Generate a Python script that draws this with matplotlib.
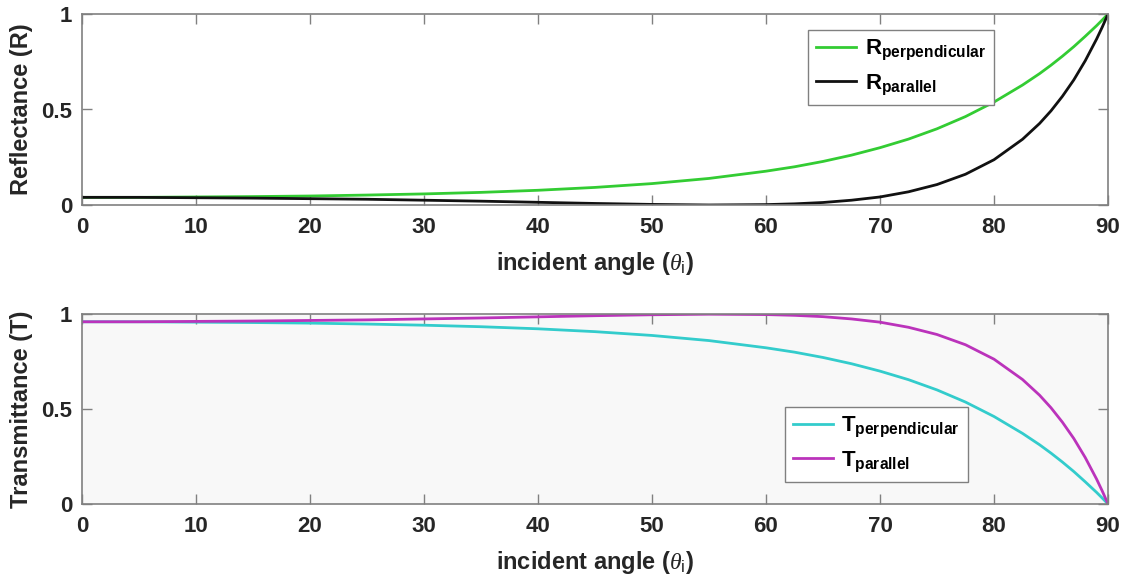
import matplotlib
matplotlib.use('Agg')
import matplotlib.pyplot as plt

plt.rcParams['font.family'] = ['Liberation Sans', 'DejaVu Sans']
plt.rcParams['font.weight'] = 'bold'
plt.rcParams['mathtext.fontset'] = 'custom'
plt.rcParams['mathtext.rm'] = 'Liberation Sans:weight=normal'
plt.rcParams['mathtext.bf'] = 'Liberation Sans:weight=bold'
plt.rcParams['mathtext.it'] = 'Liberation Serif:style=italic:weight=normal'

# incident angle in degrees (glass, n = 1.5)
angle = [0, 5, 10, 15, 20, 25, 30, 35, 40, 45, 50, 55, 60, 62.5, 65, 67.5, 70,
         72.5, 75, 77.5, 80, 82.5, 84, 85, 86, 87, 88, 89, 89.5, 90]

R_perp = [0.040, 0.040, 0.042, 0.044, 0.047, 0.052, 0.058, 0.066, 0.077, 0.092,
          0.112, 0.139, 0.177, 0.200, 0.228, 0.261, 0.300, 0.345, 0.399, 0.463,
          0.539, 0.628, 0.688, 0.732, 0.779, 0.829, 0.883, 0.939, 0.969, 1.000]
R_par = [0.040, 0.040, 0.038, 0.036, 0.033, 0.030, 0.025, 0.020, 0.014, 0.008,
         0.003, 0.000, 0.002, 0.006, 0.013, 0.025, 0.042, 0.069, 0.107, 0.161,
         0.237, 0.344, 0.427, 0.493, 0.569, 0.655, 0.755, 0.869, 0.932, 1.000]

T_perp = [0.960, 0.960, 0.958, 0.956, 0.953, 0.948, 0.942, 0.934, 0.923, 0.908,
          0.888, 0.861, 0.823, 0.800, 0.772, 0.739, 0.700, 0.655, 0.601, 0.537,
          0.461, 0.372, 0.312, 0.268, 0.221, 0.171, 0.117, 0.061, 0.031, 0.000]
T_par = [0.960, 0.960, 0.962, 0.964, 0.967, 0.970, 0.975, 0.980, 0.986, 0.992,
         0.997, 1.000, 0.998, 0.994, 0.987, 0.975, 0.958, 0.931, 0.893, 0.839,
         0.763, 0.656, 0.573, 0.507, 0.431, 0.345, 0.245, 0.131, 0.068, 0.000]

xticks = [0, 10, 20, 30, 40, 50, 60, 70, 80, 90]
yticks = [0, 0.5, 1]
ytick_labels = ['0', '0.5', '1']

FS = 16
txt = '#262626'
edge = '#808080'


def style_axes(ax, ylabel):
    ax.set_xlim(0, 90)
    ax.set_ylim(0, 1)
    ax.set_xticks(xticks)
    ax.set_yticks(yticks)
    ax.set_yticklabels(ytick_labels)
    ax.tick_params(direction='in', top=True, right=True, length=7, width=1,
                   color=edge, labelsize=FS, labelcolor=txt)
    ax.tick_params(axis='x', pad=9)
    ax.tick_params(axis='y', pad=7)
    for s in ax.spines.values():
        s.set_color(edge)
        s.set_linewidth(1.2)
    ax.set_xlabel(r'incident angle ($\theta_{\mathrm{i}}$)', fontsize=FS + 1,
                  fontweight='bold', color=txt, labelpad=8)
    ax.set_ylabel(ylabel, fontsize=FS + 1, fontweight='bold', color=txt, labelpad=6)


def add_legend(ax, anchor):
    leg = ax.legend(loc='upper left', bbox_to_anchor=anchor, borderaxespad=0,
                    fontsize=FS, fancybox=False, framealpha=1, handlelength=1.8,
                    handletextpad=0.4, borderpad=0.35, labelspacing=0.45)
    leg.get_frame().set_edgecolor(edge)
    leg.get_frame().set_linewidth(1)


fig = plt.figure(figsize=(11.29, 5.84), dpi=100)
ax1 = fig.add_axes([0.0726, 0.649, 0.9088, 0.327])
ax2 = fig.add_axes([0.0726, 0.137, 0.9088, 0.325])

ax1.plot(angle, R_perp, color='#33cc33', lw=2, solid_joinstyle='round',
         label=r'$\mathbf{R}_{\mathbf{perpendicular}}$')
ax1.plot(angle, R_par, color='#111111', lw=2, solid_joinstyle='round',
         label=r'$\mathbf{R}_{\mathbf{parallel}}$')
style_axes(ax1, 'Reflectance (R)')
add_legend(ax1, (0.708, 0.916))

ax2.set_facecolor('#f8f8f8')
ax2.plot(angle, T_perp, color='#33cccc', lw=2, solid_joinstyle='round',
         label=r'$\mathbf{T}_{\mathbf{perpendicular}}$')
ax2.plot(angle, T_par, color='#bb33bb', lw=2, solid_joinstyle='round',
         label=r'$\mathbf{T}_{\mathbf{parallel}}$')
style_axes(ax2, 'Transmittance (T)')
add_legend(ax2, (0.685, 0.51))

fig.savefig('out.png', dpi=100)
